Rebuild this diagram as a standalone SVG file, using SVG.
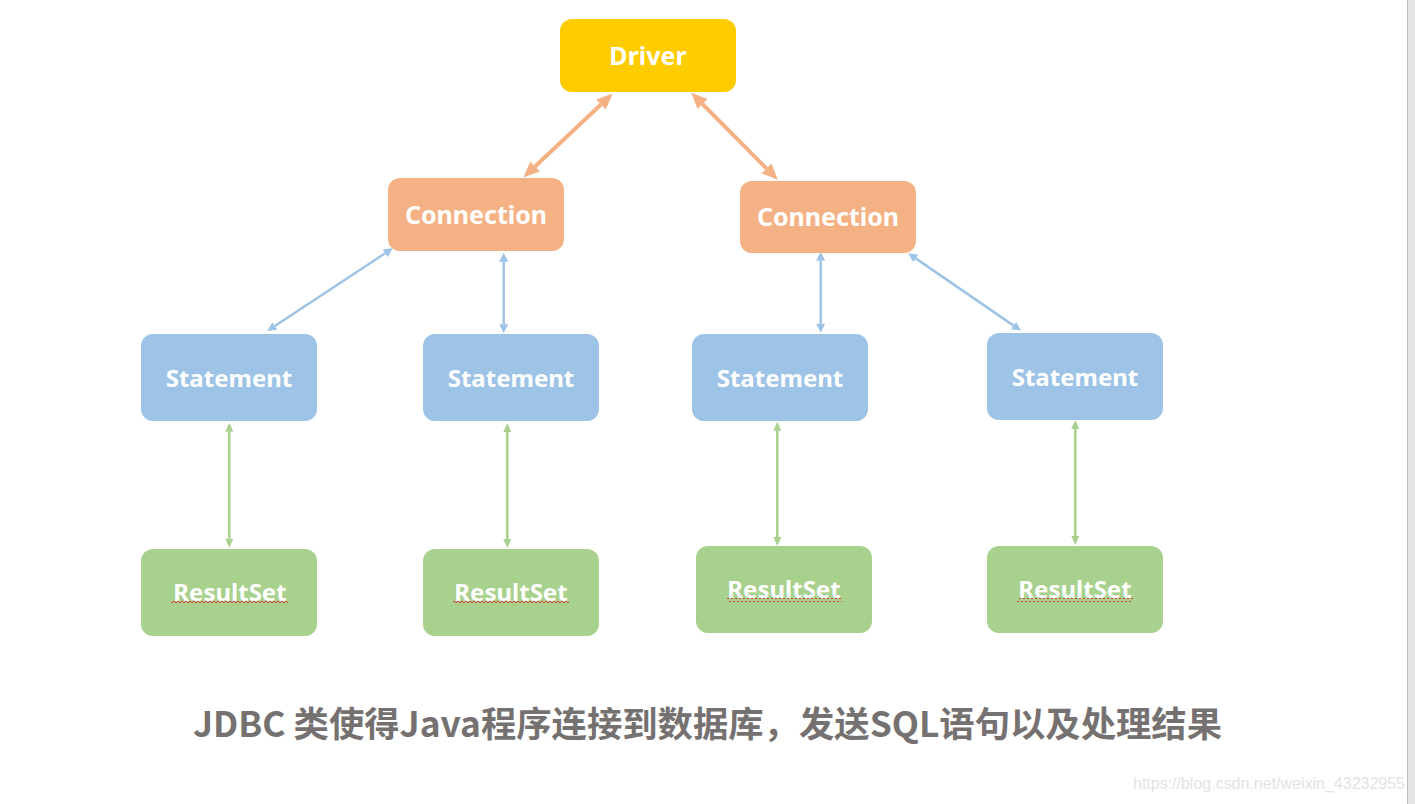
<svg xmlns="http://www.w3.org/2000/svg" width="1415" height="804" viewBox="0 0 1415 804">
<style>
.box{stroke:none}
.drv{fill:#FFCC00}
.con{fill:#F4B183}
.stm{fill:#9DC3E6}
.rs{fill:#A9D18E}
.lbl{font-family:"Noto Sans","Open Sans","DejaVu Sans",sans-serif;font-weight:bold;font-size:24px;fill:#FFFFFF;text-anchor:middle}
.big{font-size:25px}
.oa{stroke:#F4B183;stroke-width:4;fill:none;marker-start:url(#ao);marker-end:url(#ao)}
.ba{stroke:#9DC3E6;stroke-width:2.5;fill:none;marker-start:url(#ab);marker-end:url(#ab)}
.ga{stroke:#A9D18E;stroke-width:2.5;fill:none;marker-start:url(#ag);marker-end:url(#ag)}
.title{font-family:"Noto Sans CJK SC","Noto Sans",sans-serif;font-weight:bold;font-size:35px;fill:#767171}
.wm{font-family:"Liberation Sans",Arial,sans-serif;font-size:16px;fill:#E3E3E3}
</style>
<defs>
<marker id="ao" markerUnits="userSpaceOnUse" orient="auto-start-reverse" refX="0" refY="0" markerWidth="20" markerHeight="20" overflow="visible"><path d="M0,-7 L16,0 L0,7 z" fill="#F4B183"/></marker>
<marker id="ab" markerUnits="userSpaceOnUse" orient="auto-start-reverse" refX="0" refY="0" markerWidth="12" markerHeight="12" overflow="visible"><path d="M0,-4.5 L9,0 L0,4.5 z" fill="#9DC3E6"/></marker>
<marker id="ag" markerUnits="userSpaceOnUse" orient="auto-start-reverse" refX="0" refY="0" markerWidth="12" markerHeight="12" overflow="visible"><path d="M0,-4 L9,0 L0,4 z" fill="#A9D18E"/></marker>
<pattern id="sq" patternUnits="userSpaceOnUse" width="4" height="4"><path d="M0,3 L2,1 L4,3" fill="none" stroke="#E03030" stroke-width="0.9"/></pattern>
</defs>
<rect x="0" y="0" width="1415" height="804" fill="#FFFFFF"/>
<rect x="1408" y="0" width="7" height="804" fill="#E6E6E6"/>
<line x1="1407.5" y1="0" x2="1407.5" y2="804" stroke="#BDBDBD" stroke-width="1"/>

<g id="connectors">
<line class="oa" x1="535" y1="166.5" x2="601" y2="104.5"/>
<line class="oa" x1="702.5" y1="104" x2="766.5" y2="168.5"/>
<line class="ba" x1="385.2" y1="253.3" x2="274.8" y2="326"/>
<line class="ba" x1="503.7" y1="261.7" x2="503.7" y2="324.3"/>
<line class="ba" x1="820.7" y1="260.7" x2="820.7" y2="323.7"/>
<line class="ba" x1="915.7" y1="258.4" x2="1013.6" y2="325.6"/>
<line class="ga" x1="229.3" y1="431.7" x2="229.3" y2="538.7"/>
<line class="ga" x1="507.3" y1="432" x2="507.3" y2="539"/>
<line class="ga" x1="777.3" y1="430.7" x2="777.3" y2="537"/>
<line class="ga" x1="1075.3" y1="429" x2="1075.3" y2="536"/>
</g>

<g id="driver"><rect class="box drv" x="560" y="19" width="176" height="73" rx="12"/><text class="lbl big" x="648" y="65">Driver</text></g>
<g id="connection1"><rect class="box con" x="388" y="178" width="176" height="73" rx="12"/><text class="lbl big" x="476" y="224">Connection</text></g>
<g id="connection2"><rect class="box con" x="740" y="181" width="176" height="72" rx="12"/><text class="lbl big" x="828" y="226">Connection</text></g>

<g id="statement1"><rect class="box stm" x="141" y="334" width="176" height="87" rx="12"/><text class="lbl" x="229" y="387">Statement</text></g>
<g id="statement2"><rect class="box stm" x="423" y="334" width="176" height="87" rx="12"/><text class="lbl" x="511" y="387">Statement</text></g>
<g id="statement3"><rect class="box stm" x="692" y="334" width="176" height="87" rx="12"/><text class="lbl" x="780" y="387">Statement</text></g>
<g id="statement4"><rect class="box stm" x="987" y="333" width="176" height="87" rx="12"/><text class="lbl" x="1075" y="386">Statement</text></g>

<g id="resultset1"><rect class="box rs" x="141" y="549" width="176" height="87" rx="12"/><text class="lbl" x="230" y="601">ResultSet</text><rect x="171" y="601" width="117" height="4" fill="url(#sq)"/></g>
<g id="resultset2"><rect class="box rs" x="423" y="549" width="176" height="87" rx="12"/><text class="lbl" x="511" y="601">ResultSet</text><rect x="453" y="601" width="116" height="4" fill="url(#sq)"/></g>
<g id="resultset3"><rect class="box rs" x="696" y="546" width="176" height="87" rx="12"/><text class="lbl" x="784" y="598">ResultSet</text><rect x="727" y="598" width="115" height="4" fill="url(#sq)"/></g>
<g id="resultset4"><rect class="box rs" x="987" y="546" width="176" height="87" rx="12"/><text class="lbl" x="1075" y="598">ResultSet</text><rect x="1017" y="598" width="116" height="4" fill="url(#sq)"/></g>

<text class="title" x="193" y="737" textLength="1029" lengthAdjust="spacingAndGlyphs">JDBC 类使得Java程序连接到数据库，发送SQL语句以及处理结果</text>
<text class="wm" x="1133" y="789" textLength="272">https://blog.csdn.net/weixin_43232955</text>
</svg>
